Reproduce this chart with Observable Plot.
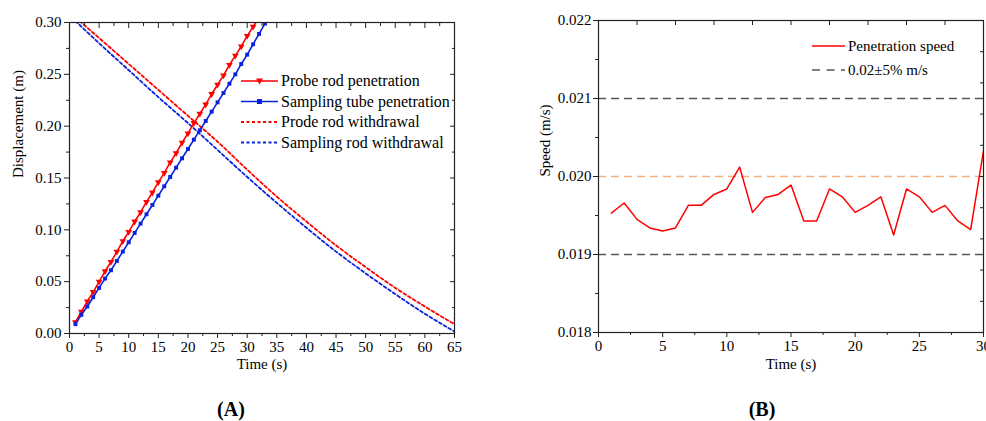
<!DOCTYPE html>
<html><head><meta charset="utf-8">
<script src="https://cdn.jsdelivr.net/npm/d3@7"></script>
<script src="https://cdn.jsdelivr.net/npm/@observablehq/plot@0.6"></script>
<style>
body{margin:0;background:#fff;}
#wrap{position:relative;width:986px;height:421px;overflow:hidden;font-family:"Liberation Serif","Times New Roman",serif;background:#fff;}
.panel{position:absolute;top:0;}
.panel svg text{font-family:"Liberation Serif","Times New Roman",serif;}
.tag{position:absolute;font-weight:bold;font-size:20px;transform:translate(-50%,-50%);white-space:nowrap;}
#legend{position:absolute;left:0;top:0;pointer-events:none;}
#legend text{font-family:"Liberation Serif","Times New Roman",serif;}
</style></head><body>
<div id="wrap">
  <div id="pa" class="panel" style="left:0;width:480px"></div>
  <div id="pb" class="panel" style="left:500px;width:486px"></div>
  <div class="tag" style="left:231px;top:409px">(A)</div>
  <div class="tag" style="left:762px;top:409px">(B)</div>
</div>
<script>
// ---------- Panel A data ----------
const probeTime = [1,2,3,4,5,6,7,8,9,10,11,12,13,14,15,16,17,18,19,20,21,22,23,24,25,26,27,28,29,30,31,32];
const probePenetration = [0.011,0.021,0.031,0.040,0.050,0.060,0.069,0.079,0.089,0.098,0.108,0.117,0.127,0.136,0.146,0.155,0.165,0.174,0.184,0.193,0.203,0.212,0.221,0.231,0.240,0.249,0.259,0.268,0.277,0.287,0.296,0.305];
const tubeTime = [1,2,3,4,5,6,7,8,9,10,11,12,13,14,15,16,17,18,19,20,21,22,23,24,25,26,27,28,29,30,31,32,33,34];
const tubePenetration = [0.009,0.018,0.026,0.035,0.044,0.053,0.061,0.070,0.079,0.088,0.097,0.106,0.115,0.124,0.133,0.142,0.151,0.160,0.169,0.178,0.187,0.196,0.205,0.214,0.223,0.232,0.241,0.250,0.260,0.269,0.279,0.289,0.299,0.309];
const withdrawTime = [1,5,10,15,20,25,30,35,40,45,50,55,60,65];
const prodeWithdrawal = [0.305,0.285,0.260,0.235,0.210,0.185,0.158,0.132,0.108,0.085,0.064,0.044,0.026,0.009];
const samplingWithdrawal = [0.3015,0.280,0.254,0.228,0.203,0.177,0.151,0.126,0.102,0.079,0.058,0.038,0.019,0.002];
const seriesNamesA = ["Probe rod penetration","Sampling tube penetration","Prode rod withdrawal","Sampling rod withdrawal"];
const xTicksA = [0,5,10,15,20,25,30,35,40,45,50,55,60,65];
const xMinorA = [2.5,7.5,12.5,17.5,22.5,27.5,32.5,37.5,42.5,47.5,52.5,57.5,62.5];
const yTicksA = [0,0.05,0.10,0.15,0.20,0.25,0.30];
const yMinorA = [0.025,0.075,0.125,0.175,0.225,0.275];

// ---------- Panel B data ----------
const speedTime = [1,2,3,4,5,6,7,8,9,10,11,12,13,14,15,16,17,18,19,20,21,22,23,24,25,26,27,28,29,30];
const speedValues = [0.01953,0.01966,0.01945,0.01934,0.01930,0.01934,0.01963,0.01963,0.01977,0.01984,0.02012,0.01954,0.01973,0.01977,0.01989,0.01943,0.01943,0.01984,0.01974,0.01954,0.01963,0.01974,0.01925,0.01984,0.01974,0.01954,0.01963,0.01943,0.01932,0.02033];
const limitLines = [0.019,0.021];
const targetLine = [0.020];
const seriesNamesB = ["Penetration speed","0.02\u00b15% m/s"];
const xTicksB = [0,5,10,15,20,25,30];
const xMinorB = [2.5,7.5,12.5,17.5,22.5,27.5];
const xTopB = [3,6,9,12,15,18,21,24,27];
const yTicksB = [0.018,0.019,0.020,0.021,0.022];
const yMinorB = [0.0185,0.0195,0.0205,0.0215];
const yRightB = [0.0184,0.0188,0.0192,0.0196,0.0200,0.0204,0.0208,0.0212,0.0216];

const RED = "#ff0000", BLUE = "#0a22dd";
const FONT = '"Liberation Serif", "Times New Roman", serif';

const probeData = probeTime.map((t,i)=>({t, v: probePenetration[i]}));
const tubeData = tubeTime.map((t,i)=>({t, v: tubePenetration[i]}));
const prodeWData = withdrawTime.map((t,i)=>({t, v: prodeWithdrawal[i]}));
const sampWData = withdrawTime.map((t,i)=>({t, v: samplingWithdrawal[i]}));

const plotA = Plot.plot({
  width: 480, height: 380,
  marginLeft: 69, marginRight: 26, marginTop: 22, marginBottom: 47,
  style: {fontFamily: FONT, fontSize: "15px", color: "black", background: "transparent"},
  x: {domain: [0,65]},
  y: {domain: [0,0.30]},
  marks: [
    Plot.line(prodeWData, {x:"t", y:"v", stroke: RED, strokeWidth: 1.8, strokeDasharray: "3,2.5", curve: "monotone-x", clip: true}),
    Plot.line(sampWData, {x:"t", y:"v", stroke: BLUE, strokeWidth: 1.8, strokeDasharray: "3,2.5", curve: "monotone-x", clip: true}),
    Plot.line(probeData, {x:"t", y:"v", stroke: RED, strokeWidth: 1.6, clip: true}),
    Plot.dot(probeData, {x:"t", y:"v", fill: RED, symbol: "triangle2", rotate: 180, r: 3.2, clip: true}),
    Plot.line(tubeData, {x:"t", y:"v", stroke: BLUE, strokeWidth: 1.6, clip: true}),
    Plot.dot(tubeData, {x:"t", y:"v", fill: BLUE, symbol: "square2", r: 2.5, clip: true}),
    Plot.frame({stroke: "#222", strokeWidth: 1.2}),
    Plot.axisX(xTicksA, {anchor: "bottom", tickSize: 5, tickPadding: 3, tickFormat: d => String(d), label: null, stroke: "#222", fontFamily: FONT}),
    Plot.axisX(xMinorA, {anchor: "bottom", tickSize: 3, fill: "none", stroke: "#222", label: null}),
    Plot.axisX(xTicksA, {anchor: "top", tickSize: -5, fill: "none", stroke: "#222", label: null}),
    Plot.axisX(xMinorA, {anchor: "top", tickSize: -3, fill: "none", stroke: "#222", label: null}),
    Plot.axisY(yTicksA, {anchor: "left", tickSize: 5, tickPadding: 3, tickFormat: d3.format(".2f"), label: null, stroke: "#222", fontFamily: FONT}),
    Plot.axisY(yMinorA, {anchor: "left", tickSize: 3, fill: "none", stroke: "#222", label: null}),
    Plot.axisY(yTicksA, {anchor: "right", tickSize: -5, fill: "none", stroke: "#222", label: null}),
    Plot.axisY(yMinorA, {anchor: "right", tickSize: -3, fill: "none", stroke: "#222", label: null}),
    Plot.text(["Time (s)"], {text: d => d, frameAnchor: "bottom", dy: 35, fontSize: 15, fontFamily: FONT}),
    Plot.text(["Displacement (m)"], {text: d => d, frameAnchor: "left", dx: -51, rotate: -90, fontSize: 15, fontFamily: FONT})
  ]
});
document.getElementById("pa").appendChild(plotA);

const speedData = speedTime.map((t,i)=>({t, v: speedValues[i]}));
const plotB = Plot.plot({
  width: 486, height: 380,
  marginLeft: 98, marginRight: 3, marginTop: 20, marginBottom: 48,
  style: {fontFamily: FONT, fontSize: "15px", color: "black", background: "transparent"},
  x: {domain: [0,30]},
  y: {domain: [0.018,0.022]},
  marks: [
    Plot.ruleY(limitLines, {y: d => d, stroke: "#555", strokeWidth: 1.5, strokeDasharray: "8,5"}),
    Plot.ruleY(targetLine, {y: d => d, stroke: "#f8b07c", strokeWidth: 1.5, strokeDasharray: "8,5"}),
    Plot.line(speedData, {x:"t", y:"v", stroke: RED, strokeWidth: 1.5, clip: true}),
    Plot.frame({stroke: "#222", strokeWidth: 1.2}),
    Plot.axisX(xTicksB, {anchor: "bottom", tickSize: 5, tickPadding: 3, tickFormat: d => String(d), label: null, stroke: "#222", fontFamily: FONT}),
    Plot.axisX(xMinorB, {anchor: "bottom", tickSize: 3, fill: "none", stroke: "#222", label: null}),
    Plot.axisX(xTopB, {anchor: "top", tickSize: -4, fill: "none", stroke: "#222", label: null}),
    Plot.axisY(yTicksB, {anchor: "left", tickSize: 5, tickPadding: 2, tickFormat: d3.format(".3f"), label: null, stroke: "#222", fontFamily: FONT}),
    Plot.axisY(yMinorB, {anchor: "left", tickSize: 3, fill: "none", stroke: "#222", label: null}),
    Plot.axisY(yRightB, {anchor: "right", tickSize: -4, fill: "none", stroke: "#222", label: null}),
    Plot.text(["Time (s)"], {text: d => d, frameAnchor: "bottom", dy: 36, fontSize: 15, fontFamily: FONT}),
    Plot.text(["Speed (m/s)"], {text: d => d, frameAnchor: "left", dx: -53, rotate: -90, fontSize: 15, fontFamily: FONT})
  ]
});
document.getElementById("pb").appendChild(plotB);

// ---------- Legends ----------
const svg = d3.select("#wrap").append("svg").attr("id","legend").attr("width",986).attr("height",421)
  .style("font-family", FONT);
const legA = [
  {name: seriesNamesA[0], color: RED, dash: null, mark: "tri", y: 81},
  {name: seriesNamesA[1], color: BLUE, dash: null, mark: "sq", y: 101.5},
  {name: seriesNamesA[2], color: RED, dash: "3,2.5", mark: null, y: 122},
  {name: seriesNamesA[3], color: BLUE, dash: "3,2.5", mark: null, y: 142.5}
];
legA.forEach(d => {
  svg.append("line").attr("x1",241).attr("x2",278).attr("y1",d.y).attr("y2",d.y)
    .attr("stroke",d.color).attr("stroke-width",d.dash ? 1.8 : 1.6).attr("stroke-dasharray",d.dash);
  if (d.mark === "tri") svg.append("path").attr("d", `M${259.5-3.5},${d.y-2.5}L${259.5+3.5},${d.y-2.5}L259.5,${d.y+3.5}Z`).attr("fill",d.color);
  if (d.mark === "sq") svg.append("rect").attr("x",257).attr("y",d.y-2.5).attr("width",5).attr("height",5).attr("fill",d.color);
  svg.append("text").attr("x",281).attr("y",d.y).attr("dy","0.33em").attr("font-size",16).attr("font-family",FONT).text(d.name);
});
const legB = [
  {name: seriesNamesB[0], color: RED, dash: null, y: 46},
  {name: seriesNamesB[1], color: "#555", dash: "8,6.5", y: 70}
];
legB.forEach(d => {
  svg.append("line").attr("x1",812).attr("x2",845).attr("y1",d.y).attr("y2",d.y)
    .attr("stroke",d.color).attr("stroke-width",1.5).attr("stroke-dasharray",d.dash);
  svg.append("text").attr("x",848).attr("y",d.y).attr("dy","0.33em").attr("font-size",15).attr("font-family",FONT).text(d.name);
});
</script>
</body></html>
